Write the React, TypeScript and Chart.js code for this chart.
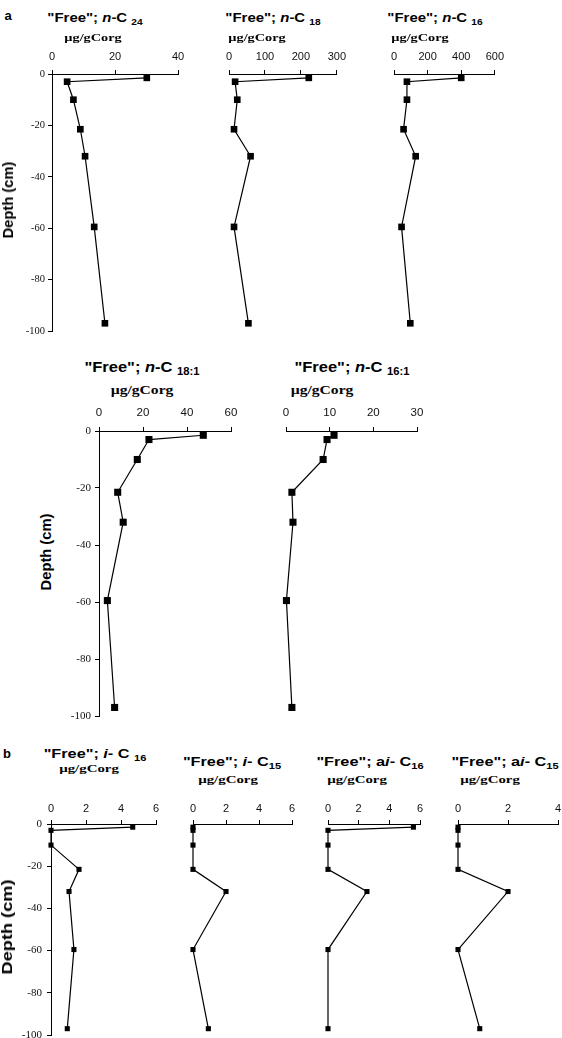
import React, { useEffect, useRef } from "react";
import { Chart, registerables } from "chart.js";

Chart.register(...registerables);

// ---- data ----
const depthCm = [-1.5, -3, -10, -21.5, -32, -59.5, -97];
const depthTicks = [0, -20, -40, -60, -80, -100];

const freeNC24 = [30.1, 4.8, 6.8, 9.0, 10.5, 13.4, 16.8];
const freeNC18 = [222, 17, 23, 14, 60, 14, 54];
const freeNC16 = [400, 77, 77, 57, 129, 45, 97];
const freeNC18_1 = [47.4, 22.7, 17.4, 8.5, 11.0, 3.8, 7.1];
const freeNC16_1 = [11.0, 9.4, 8.5, 1.35, 1.6, 0.1, 1.35];
const freeIC16 = [4.67, 0, 0, 1.6, 1.03, 1.31, 0.93];
const freeIC15 = [0, 0, 0, 0, 2.0, 0, 0.93];
const freeAiC16 = [5.57, 0, 0, 0, 2.54, 0, 0];
const freeAiC15 = [0, 0, 0, 0, 2.0, 0, 0.87];

const unitLabel = "\u00b5g/gCorg";
const depthLabel = "Depth (cm)";

// ---- layout (page pixels) ----
type PanelDef = {
  values: number[];
  xMax: number;
  xStep: number;
  l: number; r: number; t: number; b: number;
  yAxis: boolean;
  pr: number;
  xPad: number;
  xFont: number;
  yFont: number;
  yPad: number;
};

const panels: PanelDef[] = [
  { values: freeNC24, xMax: 40, xStep: 20, l: 52, r: 178, t: 73.5, b: 330, yAxis: true, pr: 4.7, xPad: 6, xFont: 11, yFont: 10.5, yPad: 3 },
  { values: freeNC18, xMax: 300, xStep: 100, l: 219.3, r: 338.3, t: 73.5, b: 330, yAxis: false, pr: 4.7, xPad: 6, xFont: 11, yFont: 10.5, yPad: 3 },
  { values: freeNC16, xMax: 600, xStep: 200, l: 384.3, r: 496, t: 73.5, b: 330, yAxis: false, pr: 4.7, xPad: 6, xFont: 11, yFont: 10.5, yPad: 3 },
  { values: freeNC18_1, xMax: 60, xStep: 20, l: 99, r: 231, t: 430.5, b: 715.5, yAxis: true, pr: 5, xPad: 7, xFont: 11.5, yFont: 11, yPad: 4 },
  { values: freeNC16_1, xMax: 30, xStep: 10, l: 276, r: 416.7, t: 430.5, b: 715.5, yAxis: false, pr: 5, xPad: 7, xFont: 11.5, yFont: 11, yPad: 4 },
  { values: freeIC16, xMax: 6, xStep: 2, l: 51, r: 156, t: 823.5, b: 1034.5, yAxis: true, pr: 3.6, xPad: 4, xFont: 11, yFont: 11, yPad: 5 },
  { values: freeIC15, xMax: 6, xStep: 2, l: 182.5, r: 291.5, t: 823.5, b: 1034.5, yAxis: false, pr: 3.6, xPad: 4, xFont: 11, yFont: 11, yPad: 5 },
  { values: freeAiC16, xMax: 6, xStep: 2, l: 317.7, r: 420, t: 823.5, b: 1034.5, yAxis: false, pr: 3.6, xPad: 4, xFont: 11, yFont: 11, yPad: 5 },
  { values: freeAiC15, xMax: 4, xStep: 2, l: 447.7, r: 557.7, t: 823.5, b: 1034.5, yAxis: false, pr: 3.6, xPad: 4, xFont: 11, yFont: 11, yPad: 5 },
];

const SANS = "'Liberation Sans', Arial, Helvetica, sans-serif";
const SERIF = "'Liberation Serif', 'Times New Roman', serif";

function Panel({ p }: { p: PanelDef }) {
  const ref = useRef<HTMLCanvasElement>(null);
  const L = p.yAxis ? 44 : 10;
  const T = 32;
  const R = 14;
  const B = 12;
  const left = Math.round(p.l - L);
  const top = Math.round(p.t - T);
  const w = Math.round(p.r - p.l) + L + R;
  const h = Math.round(p.b - p.t) + T + B;

  useEffect(() => {
    if (!ref.current) return;
    const chart = new Chart(ref.current, {
      type: "scatter",
      data: {
        datasets: [
          {
            data: p.values.map((v, i) => ({ x: v, y: depthCm[i] })),
            showLine: true,
            borderColor: "#000",
            borderWidth: 1.2,
            backgroundColor: "#000",
            pointBorderColor: "#000",
            pointBackgroundColor: "#000",
            pointStyle: "rect",
            pointRadius: p.pr,
            pointHoverRadius: p.pr,
            pointBorderWidth: 0,
            tension: 0,
            clip: false as any,
          },
        ],
      },
      options: {
        responsive: false,
        animation: false,
        devicePixelRatio: 1,
        events: [],
        layout: { padding: { left: p.yAxis ? 0 : L, top: 0, right: R, bottom: B } },
        plugins: { legend: { display: false }, tooltip: { enabled: false }, title: { display: false } },
        scales: {
          x: {
            type: "linear",
            position: "top",
            min: 0,
            max: p.xMax,
            ticks: {
              stepSize: p.xStep,
              color: "#111",
              padding: p.xPad,
              maxRotation: 0,
              autoSkip: false,
              font: { family: SANS, size: p.xFont },
            },
            grid: { display: true, drawOnChartArea: false, drawTicks: true, tickLength: 4, color: "#000", lineWidth: 1 },
            border: { display: true, color: "#000", width: 1 },
            afterFit: (s: any) => {
              s.height = T;
            },
          },
          y: {
            type: "linear",
            display: p.yAxis,
            min: -100,
            max: 0,
            afterBuildTicks: (s: any) => {
              s.ticks = depthTicks.map((v) => ({ value: v }));
            },
            ticks: {
              color: "#111",
              padding: p.yPad,
              font: { family: SERIF, size: p.yFont },
            },
            grid: { display: true, drawOnChartArea: false, drawTicks: true, tickLength: 4, color: "#000", lineWidth: 1 },
            border: { display: true, color: "#000", width: 1 },
            afterFit: (s: any) => {
              s.width = L;
            },
          },
        },
      } as any,
    });
    return () => chart.destroy();
  }, []);

  return (
    <canvas
      ref={ref}
      width={w}
      height={h}
      style={{ position: "absolute", left, top, width: w, height: h }}
    />
  );
}

function Sub({ children }: { children: React.ReactNode }) {
  return <span style={{ fontSize: "0.68em", position: "relative", top: "0.3em" }}>{children}</span>;
}

type TextDef = { cx: number; cy: number; size: number; sx: number; node: React.ReactNode; font: string; rot?: boolean };

const texts: TextDef[] = [
  { cx: 8, cy: 15, size: 13, sx: 1, font: SANS, node: "a" },
  { cx: 7, cy: 753, size: 13, sx: 1, font: SANS, node: "b" },
  // row a titles
  { cx: 95, cy: 17, size: 13, sx: 1.15, font: SANS, node: <>"Free"; <i>n</i>-C <Sub>24</Sub></> },
  { cx: 273, cy: 17, size: 13, sx: 1.15, font: SANS, node: <>"Free"; <i>n</i>-C <Sub>18</Sub></> },
  { cx: 434.5, cy: 17, size: 13, sx: 1.15, font: SANS, node: <>"Free"; <i>n</i>-C <Sub>16</Sub></> },
  { cx: 142, cy: 367, size: 15, sx: 1.1, font: SANS, node: <>"Free"; <i>n</i>-C <Sub>18:1</Sub></> },
  { cx: 352, cy: 367, size: 15, sx: 1.1, font: SANS, node: <>"Free"; <i>n</i>-C <Sub>16:1</Sub></> },
  // row b titles
  { cx: 95, cy: 753, size: 13, sx: 1.25, font: SANS, node: <>"Free"; <i>i</i>- C <Sub>16</Sub></> },
  { cx: 232, cy: 761, size: 13, sx: 1.25, font: SANS, node: <>"Free"; <i>i</i>- C<Sub>15</Sub></> },
  { cx: 370, cy: 761, size: 13, sx: 1.25, font: SANS, node: <>"Free"; a<i>i</i>- C<Sub>16</Sub></> },
  { cx: 505, cy: 761, size: 13, sx: 1.25, font: SANS, node: <>"Free"; a<i>i</i>- C<Sub>15</Sub></> },
  // units
  { cx: 93, cy: 37, size: 11, sx: 1.3, font: SERIF, node: unitLabel },
  { cx: 257, cy: 37, size: 11, sx: 1.3, font: SERIF, node: unitLabel },
  { cx: 420, cy: 37, size: 11, sx: 1.3, font: SERIF, node: unitLabel },
  { cx: 141.7, cy: 390, size: 12, sx: 1.3, font: SERIF, node: unitLabel },
  { cx: 322, cy: 390, size: 12, sx: 1.3, font: SERIF, node: unitLabel },
  { cx: 88.5, cy: 768, size: 11, sx: 1.35, font: SERIF, node: unitLabel },
  { cx: 228, cy: 779, size: 11, sx: 1.35, font: SERIF, node: unitLabel },
  { cx: 357, cy: 779, size: 11, sx: 1.35, font: SERIF, node: unitLabel },
  { cx: 490, cy: 779, size: 11, sx: 1.35, font: SERIF, node: unitLabel },
  // depth axis titles
  { cx: 8, cy: 200, size: 14, sx: 1.05, font: SANS, node: depthLabel, rot: true },
  { cx: 46, cy: 552, size: 14, sx: 1.05, font: SANS, node: depthLabel, rot: true },
  { cx: 7, cy: 927, size: 14, sx: 1.3, font: SANS, node: depthLabel, rot: true },
];

export default function App() {
  return (
    <div style={{ position: "absolute", left: 0, top: 0, width: 562, height: 1038, background: "#fff", overflow: "hidden" }}>
      {panels.map((p, i) => (
        <Panel key={i} p={p} />
      ))}
      {texts.map((t, i) => (
        <div
          key={"t" + i}
          style={{
            position: "absolute",
            left: t.cx,
            top: t.cy,
            transform: `translate(-50%, -50%)${t.rot ? " rotate(-90deg)" : ""} scaleX(${t.sx})`,
            fontFamily: t.font,
            fontWeight: "bold",
            fontSize: t.size,
            lineHeight: 1,
            whiteSpace: "nowrap",
            color: "#000",
          }}
        >
          {t.node}
        </div>
      ))}
    </div>
  );
}
